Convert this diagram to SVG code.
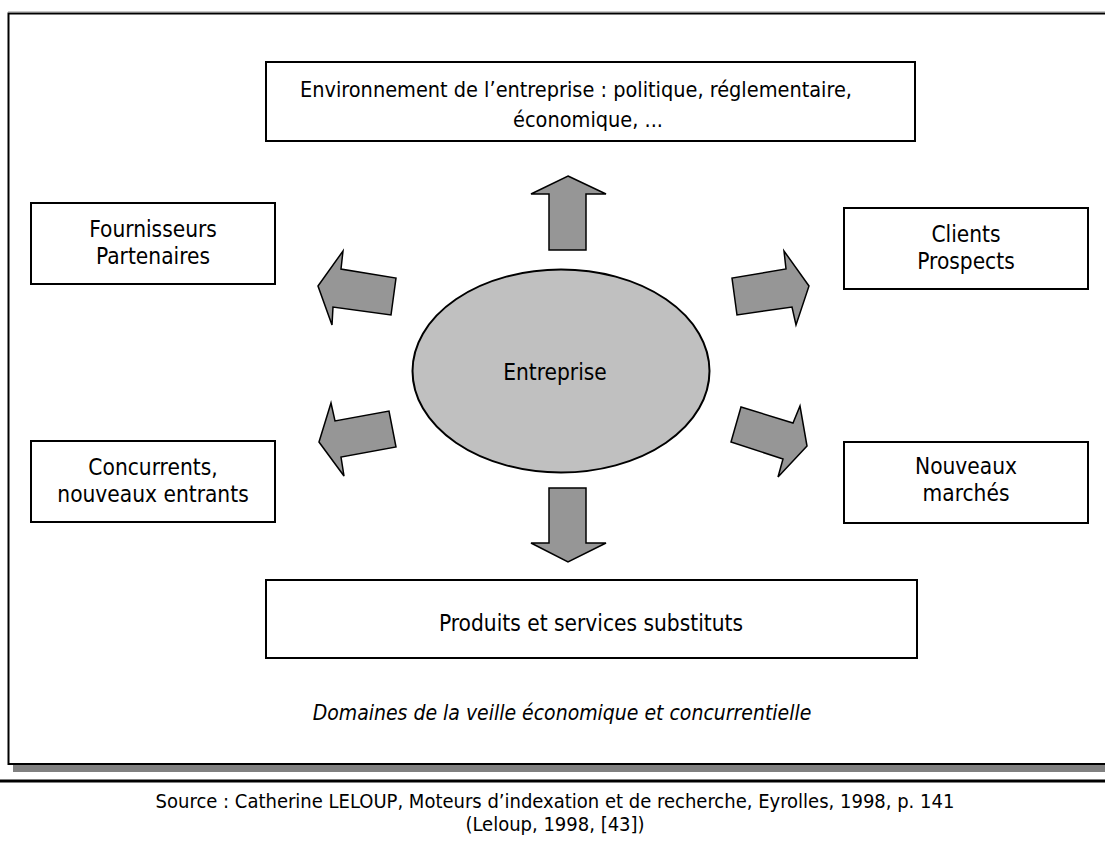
<svg xmlns="http://www.w3.org/2000/svg" width="1105" height="843" viewBox="0 0 1105 843">
<style>
.box{fill:#fff;stroke:#000;stroke-width:2}
.arr{fill:#969696;stroke:#000;stroke-width:1.5;stroke-linejoin:miter}
.t{font-family:"DejaVu Sans Condensed","DejaVu Sans",sans-serif;font-size:22.5px;fill:#000;text-anchor:middle}
.cap{font-family:"DejaVu Sans Condensed","DejaVu Sans",sans-serif;font-size:21px;font-style:italic;fill:#000;text-anchor:middle}
.src{font-family:"DejaVu Sans Condensed","DejaVu Sans",sans-serif;font-size:20px;fill:#000;text-anchor:middle}
</style>
<rect width="1105" height="843" fill="#fff"/>
<g id="frame">
<rect x="13" y="765" width="1092" height="7" fill="#808080"/>
<line x1="8" y1="11.5" x2="1105" y2="11.5" stroke="#c8c8c8" stroke-width="1"/>
<path d="M1106 13.5 H8.5 V764 H1106" fill="none" stroke="#000" stroke-width="2"/>
</g>
<line id="rule" x1="0" y1="781" x2="1105" y2="781" stroke="#000" stroke-width="3"/>
<g id="connectors">
<polygon class="arr" points="568,176 606,194 586,194 586,250 549,250 549,194 531,194"/>
<polygon class="arr" points="549,488 586,488 586,543 606,543 568,562 531,543 549,543"/>
<polygon class="arr" points="318,286 343,251 341,269 396,278 391,315 333,307 332,325"/>
<polygon class="arr" points="809,286 784,251 786,269 732,278 737,315 792,307 796,325"/>
<polygon class="arr" points="319,442 331,403 335,421 389,411 396,447 341,457 344,476"/>
<polygon class="arr" points="807,446 800,406 793,423 741,407 731,442 783,459 778,477"/>
</g>
<g id="entreprise">
<ellipse cx="561" cy="371" rx="148.5" ry="101.5" fill="#c0c0c0" stroke="#000" stroke-width="2"/>
<text class="t" x="555" y="380">Entreprise</text>
</g>
<g id="environnement">
<rect class="box" x="266" y="62" width="649" height="79"/>
<text class="t" x="576" y="97" style="font-size:21.5px">Environnement de l’entreprise : politique, réglementaire,</text>
<text class="t" x="588" y="127" style="font-size:21.5px">économique, ...</text>
</g>
<g id="fournisseurs">
<rect class="box" x="31" y="203" width="244" height="81"/>
<text class="t" x="153" y="237">Fournisseurs</text>
<text class="t" x="153" y="264">Partenaires</text>
</g>
<g id="clients">
<rect class="box" x="844" y="208" width="244" height="81"/>
<text class="t" x="966" y="242">Clients</text>
<text class="t" x="966" y="269">Prospects</text>
</g>
<g id="concurrents">
<rect class="box" x="31" y="441" width="244" height="81"/>
<text class="t" x="153" y="475">Concurrents,</text>
<text class="t" x="153" y="502">nouveaux entrants</text>
</g>
<g id="nouveaux">
<rect class="box" x="844" y="442" width="244" height="81"/>
<text class="t" x="966" y="474">Nouveaux</text>
<text class="t" x="966" y="501">marchés</text>
</g>
<g id="produits">
<rect class="box" x="266" y="580" width="651" height="78"/>
<text class="t" x="591" y="631">Produits et services substituts</text>
</g>
<text class="cap" x="562" y="720">Domaines de la veille économique et concurrentielle</text>
<text class="src" x="555" y="808">Source : Catherine LELOUP, Moteurs d’indexation et de recherche, Eyrolles, 1998, p. 141</text>
<text class="src" x="555" y="831">(Leloup, 1998, [43])</text>
</svg>
